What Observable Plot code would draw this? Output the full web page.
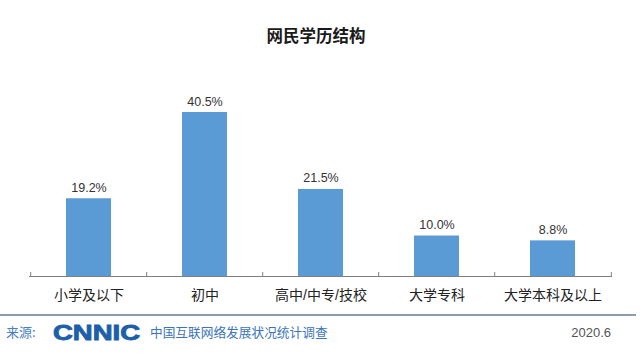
<!DOCTYPE html>
<html><head><meta charset="utf-8">
<script src="https://cdn.jsdelivr.net/npm/d3@7"></script>
<script src="https://cdn.jsdelivr.net/npm/@observablehq/plot@0.6"></script>
<style>
body{margin:0;background:#fff;}
#wrap{position:relative;width:640px;height:358px;overflow:hidden;background:#fff;font-family:'Liberation Sans','Noto Sans CJK SC',sans-serif;}
#title{position:absolute;left:0;width:632px;top:25px;line-height:20px;text-align:center;font-size:16.5px;font-weight:bold;color:#1a1a1a;font-family:'Noto Sans CJK SC',sans-serif;}
#chart{position:absolute;left:0;top:60px;}
#rule{position:absolute;left:0;top:314px;width:636px;height:2px;background:#8d9bb0;}
.ft{position:absolute;white-space:nowrap;line-height:16px;}
#src{left:6px;top:324px;font-size:13px;color:#4a80c2;font-family:'Noto Sans CJK SC',sans-serif;}
#logo{position:absolute;left:52px;top:320px;}
#sub{left:150px;top:324px;font-size:12.7px;color:#3b74bb;font-family:'Noto Sans CJK SC',sans-serif;}
#date{right:29px;top:325px;font-size:13px;color:#555;}
</style>
</head>
<body>
<div id="wrap">
  <div id="title"></div>
  <div id="chart"></div>
  <div id="rule"></div>
  <span class="ft" id="src"></span>
  <svg id="logo" width="92" height="24"><text x="1" y="19.5" font-size="21.5" font-weight="bold" fill="#1d5fa9" stroke="#1d5fa9" stroke-width="0.9" font-family="Liberation Sans, Arial, sans-serif" textLength="87" lengthAdjust="spacingAndGlyphs">CNNIC</text></svg>
  <span class="ft" id="sub"></span>
  <span class="ft" id="date"></span>
</div>
<script>
const titleText = "网民学历结构";
const categories = ["小学及以下", "初中", "高中/中专/技校", "大学专科", "大学本科及以上"];
const values = [19.2, 40.5, 21.5, 10.0, 8.8];
const sourceLabel = "来源:";
const sourceName = "中国互联网络发展状况统计调查";
const dateLabel = "2020.6";

document.getElementById("title").textContent = titleText;
document.getElementById("src").textContent = sourceLabel;
document.getElementById("sub").textContent = sourceName;
document.getElementById("date").textContent = dateLabel;

const data = categories.map((c, i) => ({cat: c, val: values[i]}));
const W = 640, H = 250, ML = 29, MR = 28, MT = 52, MB = 34;
const step = (W - ML - MR) / categories.length;

const chart = Plot.plot({
  width: W, height: H,
  marginLeft: ML, marginRight: MR, marginTop: MT, marginBottom: MB,
  style: {fontFamily: "'Liberation Sans','Noto Sans CJK SC',sans-serif", background: "transparent"},
  x: {domain: categories, paddingInner: 0.61, paddingOuter: 0.305},
  y: {domain: [0, 40.5], axis: null},
  marks: [
    Plot.barY(data, {x: "cat", y: "val", fill: "#5b9bd5"}),
    Plot.text(data, {x: "cat", y: "val", text: d => d.val.toFixed(1) + "%", lineAnchor: "bottom", dy: -7, fontSize: 12.5, fill: "#333"}),
    Plot.ruleY([0], {stroke: "#808080", strokeWidth: 1.2}),
    Plot.ruleX(categories, {x: d => d, y1: 0, y2: 1, dx: -step / 2, stroke: "#808080"}),
    Plot.ruleX(categories.slice(-1), {x: d => d, y1: 0, y2: 1, dx: step / 2, stroke: "#808080"}),
    Plot.axisX({tickSize: 0, tickPadding: 14, fontSize: 14, fill: "#222", label: null})
  ]
});
document.getElementById("chart").appendChild(chart);
</script>
</body></html>
